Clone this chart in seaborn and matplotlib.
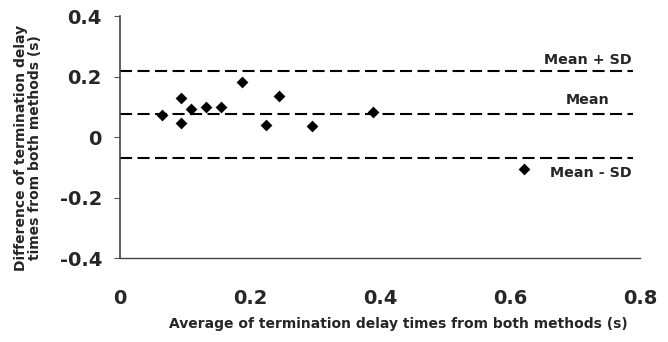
import matplotlib
matplotlib.use("Agg")
import matplotlib.pyplot as plt
import seaborn as sns
import pandas as pd

avg_x = [0.065, 0.094, 0.094, 0.109, 0.133, 0.155, 0.187, 0.225, 0.244, 0.295, 0.390, 0.622]
diff_y = [0.072, 0.128, 0.046, 0.093, 0.100, 0.100, 0.183, 0.039, 0.136, 0.037, 0.082, -0.106]
mean_val = 0.076
sd_val = 0.144
line_labels = ["Mean + SD", "Mean", "Mean - SD"]
y_ticks = [-0.4, -0.2, 0, 0.2, 0.4]
y_tick_labels = ["-0.4", "-0.2", "0", "0.2", "0.4"]
x_ticks = [0, 0.2, 0.4, 0.6, 0.8]
x_tick_labels = ["0", "0.2", "0.4", "0.6", "0.8"]

sns.set_style("white")
plt.rcParams['font.family'] = ['DejaVu Sans']

df = pd.DataFrame({"x": avg_x, "y": diff_y})
fig = plt.figure(figsize=(6.68, 3.42), dpi=100)
ax = fig.add_axes([0.1796, 0.2456, 0.958 - 0.1796, 0.953 - 0.2456])
sns.scatterplot(data=df, x="x", y="y", marker="D", s=36, color="black",
                edgecolor="black", linewidth=0, ax=ax, zorder=3)

levels = [mean_val + sd_val, mean_val, mean_val - sd_val]
for lv in levels:
    ax.plot([0, 0.79], [lv, lv], color="black", lw=1.5, dashes=(5.8, 2.6), zorder=2)

ax.text(0.787, levels[0] + 0.035, line_labels[0], ha="right", va="center",
        fontsize=10.3, fontweight="bold")
ax.text(0.719, levels[1] + 0.046, line_labels[1], ha="center", va="center",
        fontsize=10.3, fontweight="bold")
ax.text(0.787, levels[2] - 0.051, line_labels[2], ha="right", va="center",
        fontsize=10.3, fontweight="bold")

ax.set_xlim(0, 0.8)
ax.set_ylim(-0.4, 0.4)
ax.set_yticks(y_ticks)
ax.set_yticklabels(y_tick_labels, fontsize=14, fontweight="bold")
ax.set_xticks(x_ticks)
ax.set_xticklabels(x_tick_labels, fontsize=14, fontweight="bold")
ax.tick_params(axis="y", direction="out", length=4, width=0.8, color="#555555", pad=9, left=True)
ax.tick_params(axis="x", length=0, pad=22)
for s in ["top", "right"]:
    ax.spines[s].set_visible(False)
ax.spines["left"].set_color("#444444")
ax.spines["left"].set_linewidth(1.2)
ax.spines["bottom"].set_color("#444444")
ax.spines["bottom"].set_linewidth(1.0)

ax.set_xlabel("Average of termination delay times from both methods (s)",
              fontsize=10, fontweight="bold")
ax.set_ylabel("Difference of termination delay\ntimes from both methods (s)",
              fontsize=10, fontweight="bold", linespacing=1.0)
ax.xaxis.set_label_coords(0.535, -0.245)
ax.yaxis.set_label_coords(-0.15, 0.455)

fig.savefig("out.png", dpi=100)
